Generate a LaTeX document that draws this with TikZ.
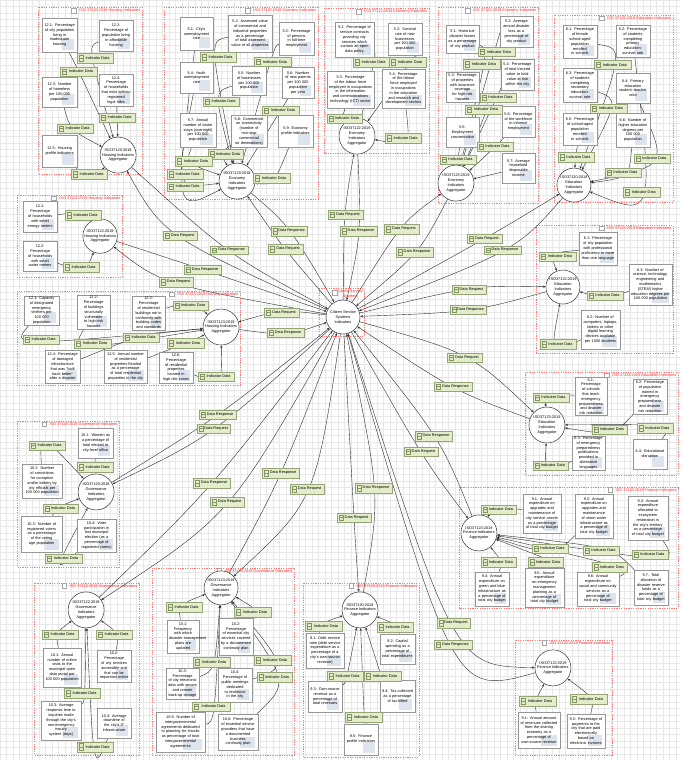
\documentclass[tikz,border=0pt]{standalone}
\usepackage{fontspec}
\setmainfont{Liberation Sans}
\usetikzlibrary{calc,arrows.meta}
\definecolor{gridc}{RGB}{232,232,232}
\definecolor{grpred}{RGB}{255,120,120}
\definecolor{titred}{RGB}{255,40,40}
\definecolor{labfill}{RGB}{228,237,201}
\definecolor{labdraw}{RGB}{150,165,120}
\definecolor{labicon}{RGB}{130,150,100}
\definecolor{boxdraw}{RGB}{150,150,150}
\definecolor{iconc}{RGB}{222,228,237}
\definecolor{edgec}{RGB}{45,45,45}
\pgfdeclarelayer{bglayer}\pgfdeclarelayer{edgelayer}
\pgfsetlayers{bglayer,edgelayer,main}
\hyphenpenalty=10000 \exhyphenpenalty=10000
\tikzset{
 txt/.style={font=\fontsize{3.85}{4.8}\selectfont},
 ibox/.style={txt, draw=boxdraw, fill=white, line width=0.45pt, inner sep=1pt, align=center,
   path picture={\fill[iconc] ([xshift=2pt,yshift=2pt]path picture bounding box.south) rectangle ([xshift=-3pt,yshift=13pt]path picture bounding box.south east);}},
 labn/.style={txt, draw=labdraw, fill=labfill, line width=0.45pt, inner sep=0pt,
   path picture={\draw[labicon,line width=0.35pt] ([xshift=2pt,yshift=1.8pt]path picture bounding box.south west) rectangle ([xshift=6.5pt,yshift=-1.8pt]path picture bounding box.north west);
   \draw[labicon,line width=0.35pt] ([xshift=2pt]path picture bounding box.west) -- ([xshift=6.5pt]path picture bounding box.west);}},
 aggc/.style={txt, circle, draw=black!80, fill=white, line width=0.5pt, inner sep=0pt, align=center},
 grpc/.style={draw=grpred, line width=0.5pt, dash pattern=on 1.2pt off 1.2pt},
 grpt/.style={txt, text=titred, inner sep=0.5pt},
 chk/.style={draw=black!35, fill=white, minimum size=4.5pt, inner sep=0pt, line width=0.3pt},
 conn/.style={draw=edgec, line width=0.4pt, -{Stealth[length=2.8pt,width=2.2pt]}}
}
\newcommand\indbox[6]{\pgfmathsetmacro\ibw{#4-#2}\pgfmathsetmacro\ibh{#5-#3}\pgfmathsetmacro\ibt{#4-#2-4}%
 \node[ibox,minimum width=\ibw pt,minimum height=\ibh pt,text width=\ibt pt] (#1) at ({(#2+#4)/2},{(#3+#5)/2}) {#6};}
\newcommand\labbox[6]{\pgfmathsetmacro\lbw{#4-#2}\pgfmathsetmacro\lbh{#5-#3}%
 \node[labn,minimum width=\lbw pt,minimum height=\lbh pt] (#1) at ({(#2+#4)/2},{(#3+#5)/2}) {\hspace*{5pt}#6};}
\newcommand\labID[5]{\labbox{#1}{#2}{#3}{#4}{#5}{Indicator Data}}
\newcommand\labRQ[5]{\labbox{#1}{#2}{#3}{#4}{#5}{Data Request}}
\newcommand\labRS[5]{\labbox{#1}{#2}{#3}{#4}{#5}{Data Response}}
\newcommand\aggn[5]{\pgfmathsetmacro\agd{2*#4}\node[aggc,minimum size=\agd pt] (#1) at (#2,#3) {#5};}
\newcommand\grpbox[6]{\begin{pgfonlayer}{bglayer}\draw[grpc] (#2,#3) rectangle (#4,#5);\end{pgfonlayer}%
 \node[grpt,anchor=north east] (#1) at (#4-1,#3+0.8) {#6};\node[chk,anchor=east] (#1c) at ([xshift=-2.5pt]#1.west) {};}
\newcommand\indedge[3]{\draw[conn] (#1) .. controls ($1.3333*(#2)-0.16667*(#1)-0.16667*(#3)$) .. (#3);}
\newcommand\reqresp[3]{\draw[conn] (ctr) .. controls ($1.3333*(#2)-0.16667*(ctr)-0.16667*(#1)$) .. (#1);
 \draw[conn] (#1) .. controls ($1.3333*(#3)-0.16667*(ctr)-0.16667*(#1)$) .. (ctr);}
\begin{document}
\begin{tikzpicture}[x=1pt,y=-1pt]
\begin{pgfonlayer}{bglayer}
\fill[white] (0,0) rectangle (680,760);
\draw[gridc, line width=0.3pt, step=6.5pt] (0pt,-760pt) grid (680pt,0pt);
\end{pgfonlayer}
\useasboundingbox (0,0) rectangle (680,760);

% ---- Group 1: Housing 37120
\grpbox{g1}{38}{7}{142}{174}{ISO 37120:2018 Housing Indicators}
\indbox{a1}{42}{18}{77}{52}{12.1: Percentage of city population living in inadequate housing}
\indbox{a2}{99}{20}{133}{51}{12.2: Percentage of population living in affordable housing}
\indbox{a3}{42}{77}{77}{107}{12.3: Number of homeless per 100~000 population}
\indbox{a4}{99}{74}{133}{106}{12.4: Percentage of households that exist without registered legal titles}
\indbox{a5}{42}{135}{77}{167}{12.5: Housing profile indicators}
\aggn{H1}{118}{155}{18}{ISO37120:2018\\Housing Indicators\\Aggregator}
\labID{la2}{77}{53}{113}{63}
\labID{la1}{60}{67}{97}{76}
\labID{la4}{99}{113}{135}{122}
\labID{la3}{57}{124}{93}{133}
\labID{la5}{71}{169}{107}{179}

% ---- Group 2: Economy 37120
\grpbox{g2}{164}{7}{318}{199}{ISO 37120:2018 Economy Indicators}
\indbox{b1}{180}{17}{213}{50}{5.1: City's unemployment rate}
\indbox{b2}{228}{15}{272}{52}{5.2: Assessed value of commercial and industrial properties as a percentage of total assessed value of all properties}
\indbox{b3}{279}{22}{314}{55}{5.3: Percentage of persons in full-time employment}
\indbox{b4}{180}{62}{213}{93}{5.4: Youth unemployment rate}
\indbox{b5}{232}{66}{266}{95}{5.5: Number of businesses per 100~000 population}
\indbox{b6}{282}{67}{314}{98}{5.6: Number of new patents per 100~000 population per year}
\indbox{b7}{180}{113}{216}{147}{5.7: Annual number of visitor stays (overnight) per 100~000 population}
\indbox{b8}{231}{115}{267}{147}{5.8: Commercial air connectivity (number of non-stop commercial air destinations)}
\indbox{b9}{278}{115}{313}{147}{5.9: Economy profile indicators}
\aggn{E1}{237}{181}{18}{ISO37120:2018\\Economy\\Indicators\\Aggregator}
\labID{lba}{200}{52}{236}{62}
\labID{lbb}{254}{57}{291}{66}
\labID{lbc}{203}{97}{239}{106}
\labID{lbd}{262}{106}{299}{115}
\labID{lbe}{208}{149}{243}{159}
\labID{lbf}{175}{156}{212}{166}
\labID{lbg}{167}{169}{203}{179}
\labID{lbh}{167}{182}{203}{191}
\labID{lbi}{253}{173}{290}{183}

% ---- Group 3: Economy 37122
\grpbox{g3}{324}{8}{429}{153}{ISO 37122:2019 Economy Indicators}
\indbox{c1}{335}{22}{374}{57}{5.1: Percentage of service contracts providing city services which contain an open data policy}
\indbox{c2}{388}{23}{422}{55}{5.2: Survival rate of new businesses per 100~000 population}
\indbox{c3}{327}{71}{374}{108}{5.3: Percentage of the labour force employed in occupations in the information and communications technology (ICT) sector}
\indbox{c4}{382}{69}{425}{108}{5.4: Percentage of the labour force employed in occupations in the education and research and development sectors}
\aggn{E2}{357}{136}{18}{ISO37122:2019\\Economy\\Indicators\\Aggregator}
\labID{lc1}{353}{57}{389}{67}
\labID{lc2}{389}{57}{426}{67}
\labID{lc3}{327}{114}{362}{123}
\labID{lc4}{385}{133}{421}{143}

% ---- Group 4: Economy 37123
\grpbox{g4}{438}{7}{538}{203}{ISO 37123:2019 Economy Indicators}
\indbox{d1}{446}{25}{479}{53}{5.1: Historical disaster losses as a percentage of city product}
\indbox{d2}{500}{16}{533}{47}{5.2: Average annual disaster loss as a percentage of city product}
\indbox{d3}{446}{72}{479}{102}{5.3: Percentage of properties with insurance coverage for high-risk hazards}
\indbox{d4}{501}{59}{534}{90}{5.4: Percentage of total insured value to total value at risk within the city}
\indbox{d5}{446}{117}{479}{147}{5.5: Employment concentration}
\indbox{d6}{502}{106}{535}{137}{5.6: Percentage of the workforce in informal employment}
\indbox{d7}{502}{153}{535}{183}{5.7: Average household disposable income}
\aggn{E3}{456}{183}{18}{ISO37123:2019\\Economy\\Indicators\\Aggregator}
\labID{ld1}{478}{47}{515}{56}
\labID{ld2}{463}{59}{500}{69}
\labID{ld3}{480}{93}{516}{102}
\labID{ld4}{465}{105}{502}{114}
\labID{ld5}{477}{142}{513}{151}
\labID{ld6}{440}{155}{476}{164}

% ---- Group 5: Education 37120
\grpbox{g5}{554}{15}{673}{202}{ISO 37120:2018 Education Indicators}
\indbox{e1}{563}{25}{597}{58}{6.1: Percentage of female school-aged population enrolled in schools}
\indbox{e2}{616}{25}{650}{57}{6.2: Percentage of students completing primary education: survival rate}
\indbox{e3}{563}{68}{597}{102}{6.3: Percentage of students completing secondary education: survival rate}
\indbox{e4}{616}{73}{650}{103}{6.4: Primary education student--teacher ratio}
\indbox{e5}{563}{113}{597}{145}{6.5: Percentage of school-aged population enrolled in schools}
\indbox{e6}{616}{113}{650}{147}{6.6: Number of higher education degrees per 100~000 population}
\aggn{D1}{574}{185}{17}{ISO37120:2018\\Education\\Indicators\\Aggregator}
\labID{le1}{594}{60}{631}{69}
\labID{le3}{590}{104}{627}{113}
\labID{le4}{634}{154}{670}{163}
\labID{le5}{558}{152}{594}{162}
\labID{le6}{605}{168}{641}{177}
\labID{le2}{623}{187}{660}{197}

% ---- Group 6: Housing 37122
\grpbox{g6}{17}{195}{122}{277}{ISO 37122:2019 Housing Indicators}
\indbox{f1}{23}{201}{57}{232}{12.1: Percentage of households with smart energy meters}
\indbox{f2}{23}{241}{57}{271}{12.2: Percentage of households with smart water meters}
\aggn{H2}{100}{236}{17}{ISO37122:2019\\Housing Indicators\\Aggregator}
\labID{lf1}{65}{210}{101}{220}
\labID{lf2}{63}{262}{99}{272}

% ---- Group 7: Housing 37123
\grpbox{g7}{17}{291}{240}{385}{ISO 37123:2019 Housing Indicators}
\indbox{h1}{24}{296}{59}{325}{12.1: Capacity of designated emergency shelters per 100~000 population}
\indbox{h2}{77}{295}{110}{329}{12.2: Percentage of buildings structurally vulnerable to high-risk hazards}
\indbox{h3}{132}{296}{165}{330}{12.3: Percentage of residential buildings not in conformity with building codes and standards}
\indbox{h4}{45}{350}{80}{383}{12.4: Percentage of damaged infrastructure that was "built back better" after a disaster}
\indbox{h5}{104}{350}{147}{383}{12.5: Annual number of residential properties flooded as a percentage of total residential properties in the city}
\indbox{h6}{159}{352}{193}{383}{12.6: Percentage of residential properties located in high-risk zones}
\aggn{H3}{221}{327}{18}{ISO37123:2019\\Housing Indicators\\Aggregator}
\labID{lh1}{173}{301}{208}{310}
\labID{lh2}{23}{335}{59}{344}
\labID{lh3}{74}{339}{111}{348}
\labID{lh4}{123}{333}{159}{342}
\labID{lh5}{167}{338}{204}{348}
\labID{lh6}{198}{372}{234}{381}

% ---- Citizen service systems
\begin{pgfonlayer}{bglayer}\draw[grpc] (319,288) rectangle (364,336);\end{pgfonlayer}
\node[grpt,anchor=north east,align=center] (gct) at (363.5,288.8) {Citizen Service\\Systems};
\node[chk,anchor=north east] (gctc) at (337,290) {};
\node[aggc,minimum size=34pt] (ctr) at (343,317) {Citizen Service\\Systems\\Indicators};

% ---- Group 9: Education 37122
\grpbox{g9}{536}{225}{673}{353}{ISO 37122:2019 Education Indicators}
\indbox{i1}{579}{232}{617}{265}{6.1: Percentage of city population with professional proficiency in more than one language}
\indbox{i3}{629}{264}{672}{305}{6.3: Number of science, technology, engineering and mathematics (STEM) higher education degrees per 100~000 population}
\indbox{i2}{581}{310}{620}{349}{6.2: Number of computers, laptops, tablets or other digital learning devices available per 1000 students}
\aggn{D2}{563}{287}{17}{ISO37122:2019\\Education\\Indicators\\Aggregator}
\labID{li1}{539}{252}{576}{261}
\labID{li3}{587}{291}{623}{300}
\labID{li2}{540}{339}{576}{349}

% ---- Group 10: Education 37123
\grpbox{g10}{525}{372}{678}{475}{ISO 37123:2019 Education Indicators}
\indbox{j1}{575}{379}{607}{414}{6.1: Percentage of schools that teach emergency preparedness and disaster risk reduction}
\indbox{j2}{633}{379}{667}{414}{6.2: Percentage of population trained in emergency preparedness and disaster risk reduction}
\indbox{j3}{572}{436}{605}{470}{6.3: Percentage of emergency preparedness publications provided in alternative languages}
\indbox{j4}{633}{439}{667}{469}{6.4: Educational disruption}
\aggn{D3}{547}{425}{18}{ISO37123:2019\\Education\\Indicators\\Aggregator}
\labID{lj1}{533}{393}{569}{402}
\labID{lj2}{592}{425}{627}{434}
\labID{lj4}{637}{423}{673}{433}
\labID{lj3}{533}{461}{568}{470}

% ---- Group 11: Finance 37123
\grpbox{g11}{459}{487}{678}{608}{ISO 37123:2019 Finance Indicators}
\indbox{k1}{523}{494}{561}{533}{9.1: Annual expenditure on upgrades and maintenance of city service assets as a percentage of total city budget}
\indbox{k2}{575}{494}{613}{538}{9.2: Annual expenditure on upgrades and maintenance of storm water infrastructure as a percentage of total city budget}
\indbox{k3}{628}{496}{668}{540}{9.3: Annual expenditure allocated to ecosystem restoration in the city's territory as a percentage of total city budget}
\indbox{k4}{475}{572}{509}{606}{9.4: Annual expenditure on green and blue infrastructure as a percentage of total city budget}
\indbox{k5}{525}{568}{564}{607}{9.5: Annual expenditure on emergency management planning as a percentage of total city budget}
\indbox{k6}{577}{572}{619}{606}{9.6: Annual expenditure on social and community services as a percentage of total city budget}
\indbox{k7}{634}{570}{668}{605}{9.7: Total allocation of disaster reserve funds as a percentage of total city budget}
\aggn{F3}{479}{533}{18}{ISO37123:2019\\Finance Indicators\\Aggregator}
\labID{lk1}{481}{505}{516}{514}
\labID{lk2}{532}{544}{568}{553}
\labID{lk3}{583}{546}{619}{555}
\labID{lk4}{632}{550}{668}{559}
\labID{lk5}{481}{557}{516}{567}
\labID{lk6}{528}{557}{563}{567}
\labID{lk7}{592}{562}{627}{572}

% ---- Group 12: Finance 37122
\grpbox{g12}{515}{640}{612}{755}{ISO 37122:2019 Finance Indicators}
\indbox{m1}{518}{712}{560}{748}{9.1: Annual amount of revenues collected from the sharing economy as a percentage of own-source revenue}
\indbox{m2}{567}{714}{605}{748}{9.2: Percentage of payments to the city that are paid electronically based on electronic invoices}
\aggn{F2}{553}{668}{18}{ISO37122:2019\\Finance Indicators\\Aggregator}
\labID{lm1}{519}{696}{556}{706}
\labID{lm2}{570}{694}{607}{704}

% ---- Group 13: Finance 37120
\grpbox{g13}{303}{583}{419}{757}{ISO 37120:2018 Finance Indicators}
\indbox{n1}{306}{633}{344}{668}{9.1: Debt service ratio (debt service expenditure as a percentage of a city's own-source revenue)}
\indbox{n2}{380}{634}{415}{664}{9.2: Capital spending as a percentage of total expenditures}
\indbox{n3}{308}{681}{342}{712}{9.3: Own-source revenue as a percentage of total revenues}
\indbox{n4}{380}{680}{415}{712}{9.4: Tax collected as a percentage of tax billed}
\indbox{n5}{344}{724}{378}{755}{9.5: Finance profile indicators}
\aggn{F1}{360}{610}{18}{ISO37120:2018\\Finance Indicators\\Aggregator}
\labID{ln1}{305}{621}{342}{631}
\labID{ln2}{377}{622}{413}{632}
\labID{ln3}{327}{671}{363}{681}
\labID{ln4}{364}{671}{401}{681}
\labID{ln5}{345}{712}{382}{722}

% ---- Group 14: Governance 37120
\grpbox{g14}{17}{421}{119}{567}{ISO 37120:2018 Governance Indicators}
\indbox{o1}{78}{428}{113}{458}{10.1: Women as a percentage of total elected to city-level office}
\indbox{o2}{22}{464}{62}{498}{10.2: Number of convictions for corruption and/or bribery by city officials per 100~000 population}
\indbox{o3}{21}{516}{62}{552}{10.3: Number of registered voters as a percentage of the voting age population}
\indbox{o4}{77}{519}{116}{552}{10.4: Voter participation in last municipal election (as a percentage of registered voters)}
\aggn{G1}{96}{492}{18}{ISO37120:2018\\Governance\\Indicators\\Aggregator}
\labID{lo2}{29}{441}{65}{450}
\labID{lo1}{77}{462}{113}{472}
\labID{lo3}{43}{504}{78}{513}
\labID{lo4}{45}{554}{82}{563}

% ---- Group 15: Governance 37122
\grpbox{g15}{34}{583}{139}{755}{ISO 37122:2019 Governance Indicators}
\indbox{p1}{43}{648}{81}{687}{10.1: Annual number of online visits to the municipal open data portal per 100~000 population}
\indbox{p2}{97}{650}{131}{682}{10.2: Percentage of city services accessible and that can be requested online}
\indbox{p3}{41}{701}{81}{740}{10.3: Average response time to inquiries made through the city's non-emergency inquiry system (days)}
\indbox{p4}{97}{708}{131}{738}{10.4: Average downtime of the city's IT infrastructure}
\aggn{G2}{86}{610}{18}{ISO37122:2019\\Governance\\Indicators\\Aggregator}
\labID{lp1}{42}{630}{78}{639}
\labID{lp2}{96}{630}{132}{639}
\labID{lp3}{64}{688}{100}{698}
\labID{lp4}{77}{742}{113}{752}

% ---- Group 16: Governance 37123
\grpbox{g16}{152}{568}{294}{755}{ISO 37123:2019 Governance Indicators}
\indbox{q1}{167}{620}{199}{653}{10.1: Frequency with which disaster-management plans are updated}
\indbox{q2}{219}{618}{253}{655}{10.2: Percentage of essential city services covered by a documented continuity plan}
\indbox{q3}{166}{668}{199}{699}{10.3: Percentage of city electronic data with secure and remote back-up storage}
\indbox{q4}{218}{668}{252}{702}{10.4: Percentage of public meetings dedicated to resilience in the city}
\indbox{q5}{156}{712}{205}{752}{10.5: Number of intergovernmental agreements dedicated to planning for shocks as percentage of total intergovernmental agreements}
\indbox{q6}{218}{714}{258}{750}{10.6: Percentage of essential service providers that have a documented business continuity plan}
\aggn{G3}{221}{588}{17}{ISO37123:2019\\Governance\\Indicators\\Aggregator}
\labID{lq1}{166}{602}{202}{612}
\labID{lq2}{234}{607}{271}{617}
\labID{lq3}{193}{657}{230}{667}
\labID{lq4}{254}{655}{291}{665}
\labID{lq5}{257}{672}{292}{682}
\labID{lq6}{192}{702}{230}{711}

% ---- Data request / response labels
\labRQ{rqH1}{163}{231}{197}{240}
\labRS{rsH1}{210}{246}{248}{254}
\labRS{rsH2}{184}{265}{221}{274}
\labRQ{rqH2}{159}{277}{193}{287}
\labRS{rsE1}{271}{226}{307}{236}
\labRQ{rqE1}{268}{244}{303}{254}
\labRQ{rqE2}{328}{210}{363}{219}
\labRS{rsE2}{340}{226}{377}{236}
\labRQ{rqE3}{384}{224}{419}{234}
\labRS{rsE3}{396}{247}{433}{257}
\labRQ{rqD1}{467}{234}{502}{243}
\labRS{rsD1}{484}{246}{521}{254}
\labRQ{rqD2}{452}{285}{486}{294}
\labRS{rsD2}{450}{305}{486}{314}
\labRQ{rqH3}{264}{308}{299}{317}
\labRS{rsH3}{267}{328}{304}{337}
\labRQ{rqD3}{447}{353}{482}{362}
\labRS{rsD3}{434}{382}{472}{391}
\labRS{rsF3}{415}{431}{452}{441}
\labRQ{rqF3}{404}{447}{438}{456}
\labRS{rsG1}{199}{410}{236}{419}
\labRQ{rqG1}{197}{424}{230}{433}
\labRS{rsG2}{193}{478}{230}{488}
\labRQ{rqG2}{210}{497}{244}{507}
\labRS{rsG3}{262}{468}{299}{478}
\labRQ{rqG3}{290}{484}{324}{494}
\labRS{rsF1}{355}{483}{392}{493}
\labRQ{rqF1}{337}{513}{371}{522}
\labRQ{rqF2}{437}{618}{470}{628}
\labRS{rsF2}{434}{640}{472}{649}

% ---- Edges
\begin{pgfonlayer}{edgelayer}
\indedge{a1}{la1}{H1}\indedge{a2}{la2}{H1}\indedge{a3}{la3}{H1}\indedge{a4}{la4}{H1}\indedge{a5}{la5}{H1}
\indedge{b1}{lbh}{E1}\indedge{b2}{lba}{E1}\indedge{b3}{lbb}{E1}\indedge{b4}{lbg}{E1}\indedge{b5}{lbc}{E1}
\indedge{b6}{lbd}{E1}\indedge{b7}{lbf}{E1}\indedge{b8}{lbe}{E1}\indedge{b9}{lbi}{E1}
\indedge{c1}{lc1}{E2}\indedge{c2}{lc2}{E2}\indedge{c3}{lc3}{E2}\indedge{c4}{lc4}{E2}
\indedge{d1}{ld2}{E3}\indedge{d2}{ld1}{E3}\indedge{d3}{ld4}{E3}\indedge{d4}{ld3}{E3}\indedge{d5}{ld6}{E3}\indedge{d6}{ld5}{E3}
\draw[conn] (d7) -- (E3);
\indedge{e1}{le1}{D1}\indedge{e2}{le2}{D1}\indedge{e3}{le3}{D1}\indedge{e4}{le4}{D1}\indedge{e5}{le5}{D1}\indedge{e6}{le6}{D1}
\indedge{f1}{lf1}{H2}\indedge{f2}{lf2}{H2}
\indedge{h1}{lh2}{H3}\indedge{h2}{lh3}{H3}\indedge{h3}{lh1}{H3}\indedge{h4}{lh4}{H3}\indedge{h5}{lh5}{H3}\indedge{h6}{lh6}{H3}
\indedge{i1}{li1}{D2}\indedge{i2}{li2}{D2}\indedge{i3}{li3}{D2}
\indedge{j1}{lj1}{D3}\indedge{j2}{lj2}{D3}\indedge{j3}{lj3}{D3}\indedge{j4}{lj4}{D3}
\indedge{k1}{lk1}{F3}\indedge{k2}{lk2}{F3}\indedge{k3}{lk4}{F3}\indedge{k4}{lk5}{F3}\indedge{k5}{lk6}{F3}\indedge{k6}{lk7}{F3}\indedge{k7}{lk3}{F3}
\indedge{m1}{lm1}{F2}\indedge{m2}{lm2}{F2}
\indedge{n1}{ln1}{F1}\indedge{n2}{ln2}{F1}\indedge{n3}{ln3}{F1}\indedge{n4}{ln4}{F1}\indedge{n5}{ln5}{F1}
\indedge{o1}{lo1}{G1}\indedge{o2}{lo2}{G1}\indedge{o3}{lo3}{G1}\indedge{o4}{lo4}{G1}
\indedge{p1}{lp1}{G2}\indedge{p2}{lp2}{G2}\indedge{p3}{lp3}{G2}\indedge{p4}{lp4}{G2}
\indedge{q1}{lq1}{G3}\indedge{q2}{lq2}{G3}\indedge{q3}{lq3}{G3}\indedge{q4}{lq4}{G3}\indedge{q5}{lq6}{G3}\indedge{q6}{lq5}{G3}
\reqresp{H1}{rqH1}{rsH1}
\reqresp{H2}{rqH2}{rsH2}
\reqresp{E1}{rqE1}{rsE1}
\reqresp{E2}{rqE2}{rsE2}
\reqresp{E3}{rqE3}{rsE3}
\reqresp{D1}{rqD1}{rsD1}
\reqresp{D2}{rqD2}{rsD2}
\reqresp{H3}{rqH3}{rsH3}
\reqresp{D3}{rqD3}{rsD3}
\reqresp{F3}{rqF3}{rsF3}
\reqresp{G1}{rqG1}{rsG1}
\reqresp{G2}{rqG2}{rsG2}
\reqresp{G3}{rqG3}{rsG3}
\reqresp{F1}{rqF1}{rsF1}
\reqresp{F2}{rqF2}{rsF2}
\end{pgfonlayer}
\end{tikzpicture}
\end{document}
